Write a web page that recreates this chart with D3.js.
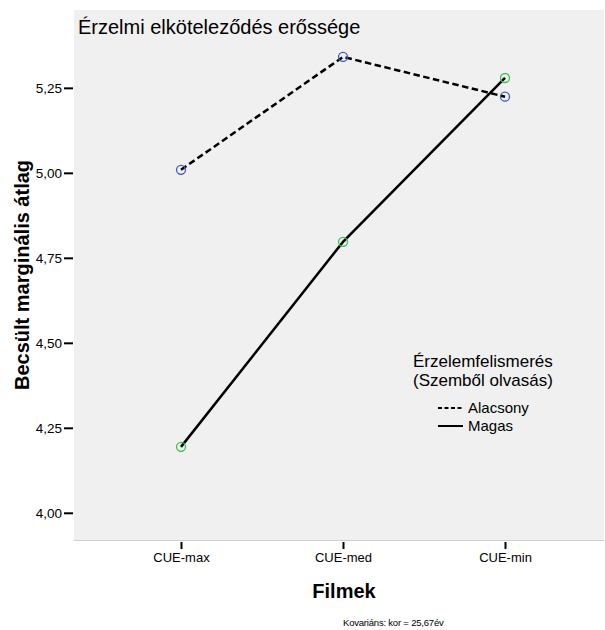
<!DOCTYPE html>
<html>
<head>
<meta charset="utf-8">
<script src="https://cdn.jsdelivr.net/npm/d3@7"></script>
<style>
  body { margin: 0; background: #fff; }
  text { font-family: "Liberation Sans", Arial, sans-serif; fill: #000; }
</style>
</head>
<body>
<script>
var width = 605, height = 630;
var plot = {left: 74, right: 604, top: 10, bottom: 540};

// data
var films = ["CUE-max", "CUE-med", "CUE-min"];
var alacsony = [5.009, 5.341, 5.224];
var magas = [4.194, 4.797, 5.279];
var yTicks = [4.00, 4.25, 4.50, 4.75, 5.00, 5.25];

var svg = d3.select("body").append("svg")
    .attr("width", width)
    .attr("height", height);

var x = d3.scalePoint().domain(films).range([181, 505]);
var y = d3.scaleLinear().domain([3.92, 5.479]).range([plot.bottom, plot.top]);

// plot background
svg.append("rect")
    .attr("x", plot.left).attr("y", plot.top)
    .attr("width", plot.right - plot.left)
    .attr("height", plot.bottom - plot.top)
    .attr("fill", "#f0f0f0");

svg.append("line")
    .attr("x1", plot.left).attr("x2", plot.right)
    .attr("y1", plot.bottom + 0.5).attr("y2", plot.bottom + 0.5)
    .attr("stroke", "#cfcfcf").attr("stroke-width", 1);

// y axis
var fmt = function(d) { return d3.format(".2f")(d).replace(".", ","); };
var yAxis = svg.append("g")
    .attr("transform", "translate(" + (plot.left - 1) + ",0)")
    .call(d3.axisLeft(y).tickValues(yTicks).tickFormat(fmt).tickSize(9).tickPadding(2));
yAxis.select(".domain").remove();
yAxis.selectAll(".tick line").attr("stroke", "#000").attr("stroke-width", 2);
yAxis.selectAll(".tick text").attr("font-size", 13.5)
    .attr("font-family", "Liberation Sans, Arial, sans-serif");

// x axis
var xAxis = svg.append("g")
    .attr("transform", "translate(0," + (plot.bottom + 2) + ")")
    .call(d3.axisBottom(x).tickSize(7).tickPadding(4));
xAxis.select(".domain").remove();
xAxis.selectAll(".tick line").attr("stroke", "#000").attr("stroke-width", 2);
xAxis.selectAll(".tick text").attr("font-size", 13)
    .attr("font-family", "Liberation Sans, Arial, sans-serif");

// lines
var line = d3.line()
    .x(function(d, i) { return x(films[i]); })
    .y(function(d) { return y(d); });

svg.append("path")
    .datum(alacsony)
    .attr("d", line)
    .attr("fill", "none")
    .attr("stroke", "#000")
    .attr("stroke-width", 2.5)
    .attr("stroke-dasharray", "6.5,3.5");

svg.append("path")
    .datum(magas)
    .attr("d", line)
    .attr("fill", "none")
    .attr("stroke", "#000")
    .attr("stroke-width", 2.5);

function markers(values, color) {
  svg.append("g").selectAll("circle")
      .data(values)
      .enter().append("circle")
      .attr("cx", function(d, i) { return x(films[i]); })
      .attr("cy", function(d) { return y(d); })
      .attr("r", 4.5)
      .attr("fill", "none")
      .attr("stroke", color)
      .attr("stroke-width", 1.3);
}
markers(alacsony, "#3d5cbf");
markers(magas, "#3cc24a");

// title inside plot
svg.append("text")
    .attr("x", 78).attr("y", 34)
    .attr("font-size", 20)
    .text("Érzelmi elköteleződés erőssége");

// axis titles
svg.append("text")
    .attr("transform", "translate(29," + ((plot.top + plot.bottom) / 2) + ") rotate(-90)")
    .attr("text-anchor", "middle")
    .attr("font-size", 20)
    .attr("font-weight", "bold")
    .text("Becsült marginális átlag");

svg.append("text")
    .attr("x", 344).attr("y", 598)
    .attr("text-anchor", "middle")
    .attr("font-size", 20)
    .attr("font-weight", "bold")
    .text("Filmek");

svg.append("text")
    .attr("x", 343).attr("y", 626)
    .attr("font-size", 9.5)
    .attr("letter-spacing", "-0.2px")
    .text("Kovariáns: kor = 25,67év");

// legend
var legendItems = [
  {label: "Alacsony", dash: "4,2.5"},
  {label: "Magas", dash: null}
];
var legend = svg.append("g");
legend.append("text")
    .attr("x", 413).attr("y", 367)
    .attr("font-size", 17)
    .text("Érzelemfelismerés");
legend.append("text")
    .attr("x", 413).attr("y", 386)
    .attr("font-size", 17)
    .text("(Szemből olvasás)");

var li = legend.selectAll(".item")
    .data(legendItems)
    .enter().append("g")
    .attr("transform", function(d, i) { return "translate(438," + (408 + i * 18) + ")"; });
li.append("line")
    .attr("x1", 0).attr("x2", 25)
    .attr("stroke", "#000")
    .attr("stroke-width", 2)
    .attr("stroke-dasharray", function(d) { return d.dash; });
li.append("text")
    .attr("x", 30).attr("y", 5)
    .attr("font-size", 15)
    .text(function(d) { return d.label; });
</script>
</body>
</html>
